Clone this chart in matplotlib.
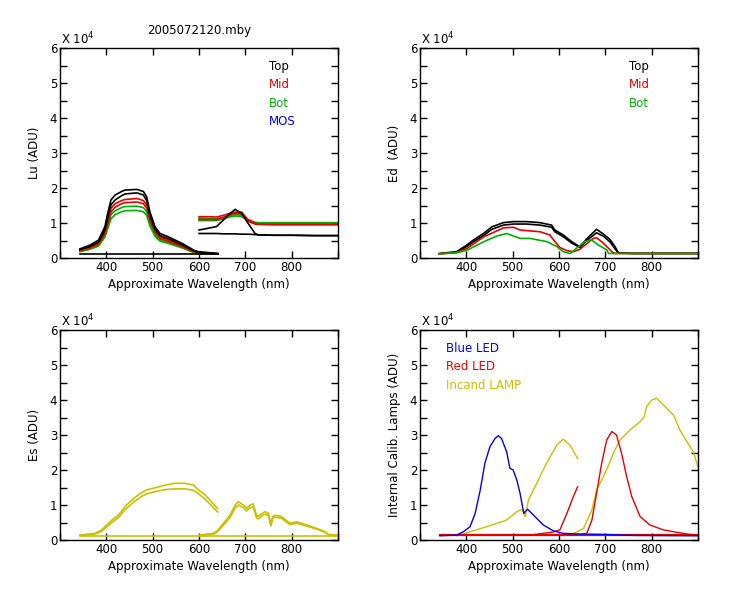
import numpy as np
import matplotlib.pyplot as plt
from matplotlib.ticker import MultipleLocator, FuncFormatter

# colours used by the instrument plots
BLK = 'black'; RED = '#e60000'; GRN = '#00b000'; BLU = '#0000f0'; OLV = '#c8c000'

# ---- Lu (upwelling radiance), values in units of 1e4 ADU ----
lu_wl = [343, 365, 383, 390, 397, 403, 410, 419, 433, 440, 466, 480, 487, 494, 505, 516, 533, 563, 588, 598, 641]
lu_top_a = [0.26, 0.37, 0.51, 0.70, 0.90, 1.28, 1.66, 1.80, 1.90, 1.94, 1.96, 1.90, 1.75, 1.32, 0.89, 0.70, 0.61, 0.42, 0.23, 0.18, 0.13]
lu_top_b = [0.24, 0.33, 0.46, 0.62, 0.82, 1.15, 1.52, 1.66, 1.78, 1.83, 1.86, 1.80, 1.64, 1.22, 0.82, 0.64, 0.56, 0.38, 0.21, 0.16, 0.12]
lu_mid_a = [0.23, 0.32, 0.44, 0.59, 0.76, 1.08, 1.42, 1.55, 1.64, 1.67, 1.70, 1.64, 1.52, 1.16, 0.80, 0.60, 0.52, 0.36, 0.20, 0.15, 0.12]
lu_mid_b = [0.21, 0.29, 0.40, 0.54, 0.70, 0.98, 1.32, 1.45, 1.55, 1.58, 1.60, 1.55, 1.43, 1.08, 0.74, 0.56, 0.48, 0.33, 0.18, 0.14, 0.12]
lu_bot_a = [0.20, 0.28, 0.38, 0.52, 0.66, 0.92, 1.24, 1.35, 1.44, 1.47, 1.48, 1.44, 1.32, 1.00, 0.68, 0.52, 0.45, 0.31, 0.17, 0.14, 0.12]
lu_bot_b = [0.18, 0.25, 0.34, 0.47, 0.60, 0.84, 1.12, 1.24, 1.32, 1.35, 1.36, 1.32, 1.22, 0.92, 0.62, 0.48, 0.42, 0.29, 0.16, 0.13, 0.11]
lu_base_wl = [343, 641]
lu_base = [0.12, 0.12]

lu_wl_r = [600, 620, 638, 653, 665, 678, 692, 706, 721, 728, 760, 800, 850, 900]
lu_top_r = [0.80, 0.85, 0.90, 1.09, 1.25, 1.39, 1.28, 0.99, 0.70, 0.66, 0.65, 0.65, 0.64, 0.64]
lu_top_r2 = [0.70, 0.70, 0.70, 0.69, 0.69, 0.69, 0.68, 0.68, 0.67, 0.66, 0.65, 0.65, 0.64, 0.64]
lu_mid_r = [1.18, 1.18, 1.17, 1.22, 1.27, 1.31, 1.31, 1.09, 0.99, 0.97, 0.96, 0.96, 0.96, 0.96]
lu_mid_r2 = [1.10, 1.10, 1.10, 1.16, 1.23, 1.28, 1.26, 1.05, 0.97, 0.96, 0.95, 0.95, 0.95, 0.95]
lu_bot_r = [1.14, 1.13, 1.12, 1.16, 1.20, 1.24, 1.22, 1.10, 1.02, 1.01, 1.01, 1.01, 1.01, 1.01]
lu_bot_r2 = [1.07, 1.07, 1.07, 1.12, 1.17, 1.20, 1.18, 1.07, 1.00, 1.00, 1.00, 1.00, 1.00, 1.00]

# ---- Ed (downwelling irradiance) ----
ed_wl_top = [342, 379, 401, 415, 437, 455, 480, 501, 530, 559, 584, 591, 609, 627, 645, 660, 681, 696, 710, 721, 728, 760, 900]
ed_top_a = [0.13, 0.18, 0.37, 0.51, 0.70, 0.89, 1.01, 1.04, 1.04, 1.01, 0.94, 0.80, 0.66, 0.47, 0.32, 0.55, 0.82, 0.68, 0.53, 0.32, 0.15, 0.13, 0.13]
ed_top_b = [0.12, 0.16, 0.33, 0.46, 0.64, 0.82, 0.94, 0.97, 0.97, 0.94, 0.88, 0.75, 0.61, 0.43, 0.30, 0.50, 0.72, 0.62, 0.46, 0.26, 0.14, 0.13, 0.13]
ed_wl_mid = [342, 379, 401, 437, 480, 501, 516, 559, 580, 591, 602, 617, 631, 645, 674, 681, 696, 714, 721, 760, 900]
ed_mid = [0.12, 0.16, 0.27, 0.60, 0.86, 0.88, 0.80, 0.75, 0.66, 0.47, 0.30, 0.21, 0.18, 0.25, 0.56, 0.58, 0.42, 0.18, 0.13, 0.13, 0.13]
ed_wl_bot = [342, 379, 401, 437, 466, 487, 516, 537, 573, 595, 609, 624, 638, 656, 670, 685, 703, 707, 760, 900]
ed_bot = [0.12, 0.15, 0.22, 0.46, 0.63, 0.70, 0.56, 0.56, 0.47, 0.33, 0.18, 0.13, 0.28, 0.47, 0.52, 0.37, 0.23, 0.13, 0.13, 0.13]

# ---- Es (surface irradiance) ----
es_wl_l = [343, 376, 390, 401, 412, 426, 440, 455, 473, 487, 505, 527, 548, 570, 588, 599, 613, 627, 640]
es_l_a = [0.14, 0.19, 0.29, 0.43, 0.57, 0.71, 0.95, 1.14, 1.33, 1.43, 1.49, 1.57, 1.62, 1.62, 1.57, 1.43, 1.29, 1.09, 0.90]
es_l_b = [0.13, 0.17, 0.25, 0.38, 0.50, 0.64, 0.86, 1.04, 1.22, 1.32, 1.38, 1.44, 1.46, 1.46, 1.42, 1.32, 1.17, 0.98, 0.80]
es_wl_r = [602, 631, 638, 653, 667, 678, 685, 696, 703, 710, 717, 724, 727, 742, 750, 755, 759, 764, 778, 796, 811, 832, 854, 872, 879, 900]
es_r_a = [0.14, 0.19, 0.24, 0.48, 0.71, 1.00, 1.09, 1.00, 0.90, 1.00, 1.03, 0.71, 0.67, 0.81, 0.76, 0.43, 0.67, 0.71, 0.67, 0.48, 0.52, 0.43, 0.33, 0.24, 0.16, 0.14]
es_r_b = [0.13, 0.17, 0.21, 0.43, 0.64, 0.92, 1.00, 0.92, 0.83, 0.92, 0.95, 0.64, 0.60, 0.74, 0.70, 0.40, 0.62, 0.66, 0.62, 0.44, 0.48, 0.40, 0.31, 0.22, 0.15, 0.13]
es_base_wl = [343, 900]
es_base = [0.12, 0.12]

# ---- internal calibration lamps ----
blue_wl = [343, 379, 394, 408, 419, 430, 440, 451, 462, 469, 476, 487, 494, 501, 509, 516, 524, 532, 545, 566, 588, 609, 645, 696, 760, 900]
blue_led = [0.12, 0.14, 0.24, 0.38, 0.76, 1.43, 2.19, 2.67, 2.90, 2.98, 2.90, 2.52, 2.05, 2.00, 1.71, 1.33, 0.76, 0.88, 0.71, 0.43, 0.26, 0.19, 0.17, 0.16, 0.13, 0.12]
red_wl_l = [537, 588, 602, 617, 631, 640]
red_led_l = [0.14, 0.23, 0.29, 0.76, 1.24, 1.52]
red_wl_r = [640, 660, 671, 681, 692, 703, 714, 724, 735, 746, 757, 775, 796, 825, 876, 900]
red_led_r = [0.14, 0.19, 0.57, 1.33, 2.19, 2.86, 3.10, 3.00, 2.48, 1.81, 1.24, 0.67, 0.43, 0.29, 0.17, 0.14]
red_base_wl = [343, 900]
red_base = [0.13, 0.13]
lamp_wl_l = [379, 444, 487, 509, 520, 527, 534, 552, 573, 595, 609, 624, 640]
lamp_l = [0.12, 0.38, 0.57, 0.81, 0.88, 0.67, 1.14, 1.62, 2.19, 2.71, 2.88, 2.71, 2.33]
lamp_wl_r = [624, 653, 671, 681, 692, 706, 717, 732, 753, 775, 784, 789, 800, 811, 825, 847, 861, 876, 890, 900]
lamp_r = [0.14, 0.33, 0.86, 1.43, 1.71, 2.10, 2.48, 2.86, 3.14, 3.38, 3.52, 3.81, 4.00, 4.05, 3.86, 3.57, 3.14, 2.81, 2.52, 2.08]


def style_axis(ax, ylabel):
    ax.set_xlim(300, 900)
    ax.set_ylim(0, 6)
    ax.xaxis.set_major_locator(MultipleLocator(100))
    ax.yaxis.set_major_locator(MultipleLocator(1))
    ax.yaxis.set_minor_locator(MultipleLocator(0.5))
    ax.xaxis.set_major_formatter(FuncFormatter(
        lambda v, p: '%d' % v if 400 <= v <= 800 else ''))
    ax.tick_params(which='both', direction='in', top=True, right=True,
                   length=5, width=1, labelsize=8.5, pad=2)
    for s in ax.spines.values():
        s.set_linewidth(1)
    ax.set_xlabel('Approximate Wavelength (nm)', fontsize=8.5, labelpad=3)
    ax.set_ylabel(ylabel, fontsize=8.5, labelpad=6)
    ax.text(0.005, 1.005, r'X 10$^4$', transform=ax.transAxes,
            fontsize=8.5, ha='left', va='bottom')


fig = plt.figure(figsize=(7.5, 6), dpi=100)
w, h = 0.3707, 0.35
ax1 = fig.add_axes([0.08, 0.57, w, h])
ax2 = fig.add_axes([0.56, 0.57, w, h])
ax3 = fig.add_axes([0.08, 0.10, w, h])
ax4 = fig.add_axes([0.56, 0.10, w, h])
lw = 1.2

# Lu
for y in (lu_bot_b, lu_bot_a):
    ax1.plot(lu_wl, y, color=GRN, lw=lw)
for y in (lu_mid_b, lu_mid_a):
    ax1.plot(lu_wl, y, color=RED, lw=lw)
for y in (lu_top_b, lu_top_a):
    ax1.plot(lu_wl, y, color=BLK, lw=lw)
ax1.plot(lu_base_wl, lu_base, color=BLK, lw=lw)
for y in (lu_bot_r, lu_bot_r2):
    ax1.plot(lu_wl_r, y, color=GRN, lw=lw)
for y in (lu_mid_r, lu_mid_r2):
    ax1.plot(lu_wl_r, y, color=RED, lw=lw)
for y in (lu_top_r, lu_top_r2):
    ax1.plot(lu_wl_r, y, color=BLK, lw=lw)
style_axis(ax1, 'Lu (ADU)')
ax1.set_title('2005072120.mby', fontsize=8.5, pad=10)
for i, (t, c) in enumerate([('Top', BLK), ('Mid', RED), ('Bot', GRN), ('MOS', BLU)]):
    ax1.text(0.75, 0.91 - i * 0.086, t, color=c, fontsize=8.5,
             transform=ax1.transAxes, va='center')

# Ed
for y in (ed_top_a, ed_top_b):
    ax2.plot(ed_wl_top, y, color=BLK, lw=lw)
ax2.plot(ed_wl_mid, ed_mid, color=RED, lw=lw)
ax2.plot(ed_wl_bot, ed_bot, color=GRN, lw=lw)
style_axis(ax2, 'Ed  (ADU)')
for i, (t, c) in enumerate([('Top', BLK), ('Mid', RED), ('Bot', GRN)]):
    ax2.text(0.75, 0.91 - i * 0.086, t, color=c, fontsize=8.5,
             transform=ax2.transAxes, va='center')

# Es
ax3.plot(es_base_wl, es_base, color=OLV, lw=lw)
for y in (es_l_a, es_l_b):
    ax3.plot(es_wl_l, y, color=OLV, lw=lw)
for y in (es_r_a, es_r_b):
    ax3.plot(es_wl_r, y, color=OLV, lw=lw)
style_axis(ax3, 'Es (ADU)')

# calibration lamps
ax4.plot(lamp_wl_l, lamp_l, color=OLV, lw=1.0)
ax4.plot(lamp_wl_r, lamp_r, color=OLV, lw=1.0)
ax4.plot(red_base_wl, red_base, color=RED, lw=1.6)
ax4.plot(red_wl_l, red_led_l, color=RED, lw=1.0)
ax4.plot(red_wl_r, red_led_r, color=RED, lw=1.0)
ax4.plot(blue_wl, blue_led, color=BLU, lw=1.0)
style_axis(ax4, 'Internal Calib. Lamps (ADU)')
for i, (t, c) in enumerate([('Blue LED', BLU), ('Red LED', RED), ('Incand LAMP', OLV)]):
    ax4.text(0.095, 0.91 - i * 0.086, t, color=c, fontsize=8.5,
             transform=ax4.transAxes, va='center')

fig.savefig('out.png', dpi=100)
